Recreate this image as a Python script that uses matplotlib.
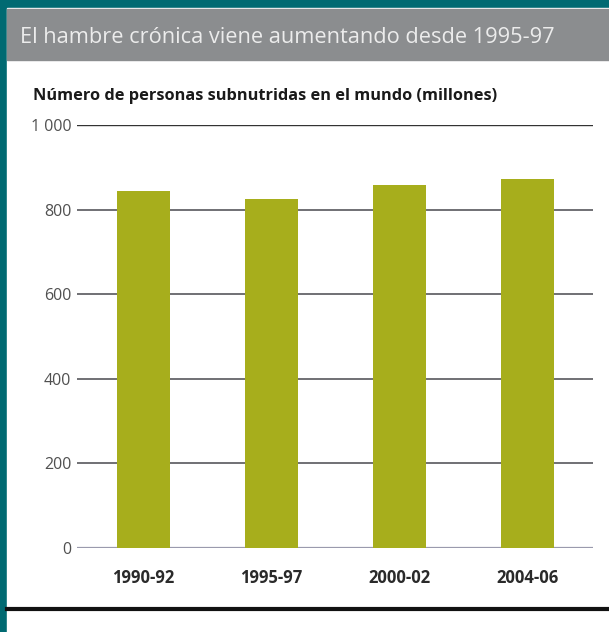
import matplotlib.pyplot as plt
from matplotlib.patches import Rectangle
from matplotlib.lines import Line2D

# data
periods = ['1990-92', '1995-97', '2000-02', '2004-06']
undernourished = [845, 825, 857, 873]
y_ticks = [0, 200, 400, 600, 800, 1000]
y_tick_labels = ['0', '200', '400', '600', '800', '1 000']

title = 'El hambre crónica viene aumentando desde 1995-97'
ylabel = 'Número de personas subnutridas en el mundo (millones)'

teal = '#006a72'
band = '#8b8d8f'
bar_color = '#a7ae1c'
font = ['Open Sans', 'DejaVu Sans']

W, H = 609, 632
fig = plt.figure(figsize=(W / 100, H / 100), dpi=100)
fig.patch.set_facecolor(teal)

def px(x, y):
    # pixel coords (from top left) to figure fraction
    return x / W, 1 - y / H

# white panel and grey title band
fig.patches.append(Rectangle(px(7, H), (W - 7) / W, (H - 8) / H,
                             transform=fig.transFigure, color='white', zorder=-2))
fig.patches.append(Rectangle(px(7, 60), (W - 7) / W, 51 / H,
                             transform=fig.transFigure, color=band, zorder=-1))
fig.lines.append(Line2D([7 / W, 1], [1 - 609 / H] * 2, transform=fig.transFigure,
                        color='#111111', lw=3.0, zorder=-1))

fig.text(*px(20, 43), title, fontsize=15.7, color='#ececec', family=font,
         va='baseline', ha='left')
fig.text(*px(33, 100), ylabel, fontsize=11.8, color='#1a1a1a', family=font,
         fontweight='bold', va='baseline', ha='left')

# plot area: x 77..593 px, y 125..548 px
left, bottom = px(77, 548)
ax = fig.add_axes([left, bottom, 516 / W, 423 / H])
ax.set_zorder(5)
ax.set_facecolor('none')

x = list(range(len(periods)))
ax.bar(x, undernourished, width=0.41, color=bar_color, zorder=3)

for v in y_ticks:
    if v == 0:
        ax.axhline(v, color='#9a9aad', lw=1.6, zorder=2)
    elif v == 1000:
        ax.axhline(v, color='#333333', lw=1.0, zorder=2)
    else:
        ax.axhline(v, color='#707074', lw=1.4, zorder=2)

ax.set_xlim(-0.52, 3.51)
ax.set_ylim(0, 1000)
ax.set_xticks(x)
ax.set_xticklabels(periods, fontsize=12, fontweight='bold', color='#2a2a2a',
                   family=font)
ax.set_yticks(y_ticks)
ax.set_yticklabels(y_tick_labels, fontsize=11.5, color='#505050', family=font)
ax.tick_params(length=0)
ax.tick_params(axis='y', pad=4)
ax.tick_params(axis='x', pad=15)
for s in ax.spines.values():
    s.set_visible(False)

fig.savefig('out.png', dpi=100, facecolor=fig.get_facecolor())
